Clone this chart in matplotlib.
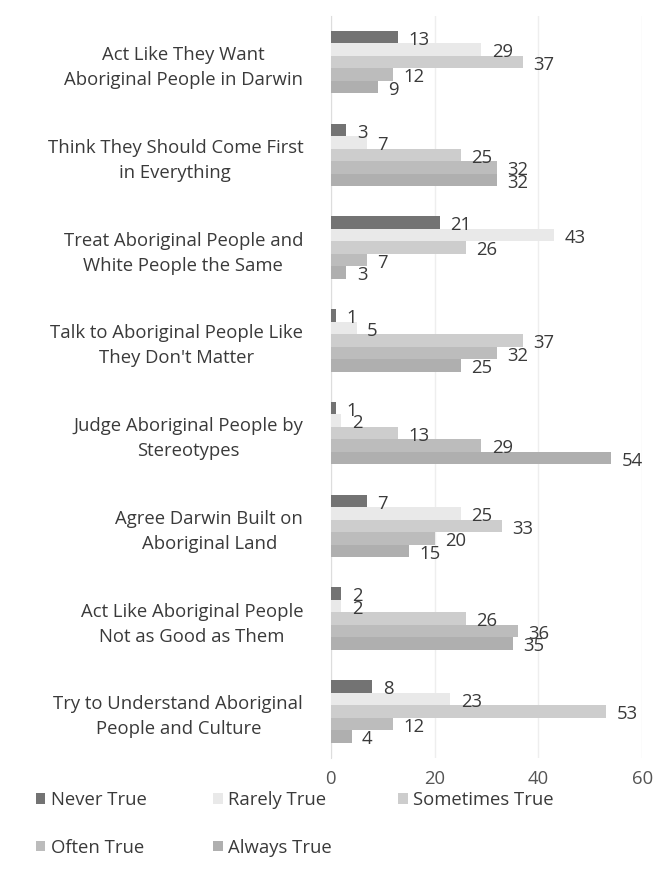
import matplotlib.pyplot as plt
import numpy as np

# ── Data ─────────────────────────────────────────────────────────────────────
categories = [
    "Act Like They Want\nAboriginal People in Darwin",
    "Think They Should Come First\nin Everything",
    "Treat Aboriginal People and\nWhite People the Same",
    "Talk to Aboriginal People Like\nThey Don't Matter",
    "Judge Aboriginal People by\nStereotypes",
    "Agree Darwin Built on\nAboriginal Land",
    "Act Like Aboriginal People\nNot as Good as Them",
    "Try to Understand Aboriginal\nPeople and Culture",
]
series_names = ["Never True", "Rarely True", "Sometimes True", "Often True", "Always True"]
never_true = [13, 3, 21, 1, 1, 7, 2, 8]
rarely_true = [29, 7, 43, 5, 2, 25, 2, 23]
sometimes_true = [37, 25, 26, 37, 13, 33, 26, 53]
often_true = [12, 32, 7, 32, 29, 20, 36, 12]
always_true = [9, 32, 3, 25, 54, 15, 35, 4]
x_ticks = [0, 20, 40, 60]

# ── Style ────────────────────────────────────────────────────────────────────
COLORS = ["#737373", "#e9e9e9", "#cdcdcd", "#bcbcbc", "#afafaf"]
TEXT = "#3a3a3a"
plt.rcParams["font.family"] = ["Open Sans", "DejaVu Sans"]
FS = 13.3

fig = plt.figure(figsize=(6.54, 8.77), dpi=100)
ax = fig.add_axes([0.506, 0.136, 0.476, 0.846])

values = [never_true, rarely_true, sometimes_true, often_true, always_true]
n = len(categories)
y = np.arange(n)
bar_h = 0.135

handles = []
for i, (vals, name, col) in enumerate(zip(values, series_names, COLORS)):
    pos = y + (i - 2) * bar_h
    h = ax.barh(pos, vals, height=bar_h, color=col, label=name, zorder=3)
    handles.append(h)
    for p, v in zip(pos, vals):
        ax.text(v + 2.0, p + 0.03, str(v), va="center", ha="left",
                fontsize=FS, color=TEXT, zorder=4)

ax.set_xlim(0, 60)
ax.set_ylim(n - 0.5, -0.5)
ax.set_xticks(x_ticks)
ax.set_xticklabels([str(t) for t in x_ticks], fontsize=FS, color="#555555")
ax.set_yticks(y)
ax.set_yticklabels(categories, fontsize=FS, color=TEXT,
                   multialignment="center", linespacing=1.5)
ax.tick_params(axis="both", length=0)
ax.tick_params(axis="y", pad=20)
ax.tick_params(axis="x", pad=9)

ax.grid(axis="x", color="#eeeeee", linewidth=1, zorder=0)
for s in ["top", "right", "bottom"]:
    ax.spines[s].set_visible(False)
ax.spines["left"].set_color("#dddddd")

# legend filled row by row: Never, Rarely, Sometimes / Often, Always
order = [0, 3, 1, 4, 2]
fig.legend([handles[k] for k in order], [series_names[k] for k in order],
           loc="upper left", bbox_to_anchor=(0.03, 0.117), ncol=3,
           frameon=False, fontsize=FS, handlelength=0.5, handleheight=0.5,
           handletextpad=0.3, columnspacing=3.6, labelspacing=1.6,
           labelcolor=TEXT)

fig.savefig("out.png", dpi=100)
